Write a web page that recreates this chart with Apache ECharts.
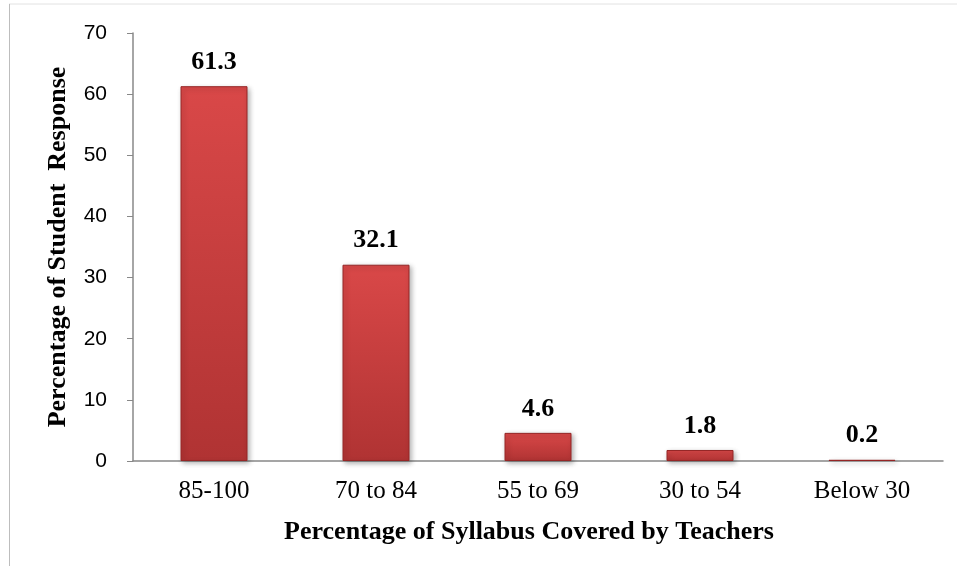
<!DOCTYPE html>
<html>
<head>
<meta charset="utf-8">
<script src="https://cdn.jsdelivr.net/npm/echarts@6/dist/echarts.min.js"></script>
<style>
  html, body { margin: 0; padding: 0; background: #fff; }
  #chart { width: 957px; height: 575px; }
</style>
</head>
<body>
<div id="chart"></div>
<script>
// syllabus coverage bands and the share of students answering each
var categories = ["85-100", "70 to 84", "55 to 69", "30 to 54", "Below 30"];
var responses = [61.3, 32.1, 4.6, 1.8, 0.2];
var yTicks = { min: 0, max: 70, interval: 10 };

var myChart = echarts.init(document.getElementById("chart"));

// top lighter, bottom darker like the bevelled office bars
var barColor = {
  type: "linear", x: 0, y: 0, x2: 0, y2: 1,
  colorStops: [
    { offset: 0, color: "#d94848" },
    { offset: 1, color: "#b03333" }
  ]
};

var option = {
  backgroundColor: "#fff",
  animation: false,
  graphic: [
    // faint frame of the original chart area
    { type: "line", shape: { x1: 9, y1: 4, x2: 957, y2: 4 }, style: { stroke: "#e2e2e2", lineWidth: 1 } },
    { type: "line", shape: { x1: 9.5, y1: 4, x2: 9.5, y2: 566 }, style: { stroke: "#bdbdbd", lineWidth: 1 } }
  ],
  grid: { left: 133, right: 14, top: 33, bottom: 114 },
  xAxis: {
    type: "category",
    data: categories,
    name: "Percentage of Syllabus Covered by Teachers",
    nameLocation: "middle",
    nameGap: 58,
    nameTextStyle: { fontFamily: "Liberation Serif", fontWeight: "bold", fontSize: 26, color: "#000", padding: [0, 18, 0, 0] },
    axisLine: { lineStyle: { color: "#888", width: 1.5 } },
    axisTick: { show: false },
    axisLabel: { fontFamily: "Liberation Serif", fontSize: 25, color: "#000", margin: 18 }
  },
  yAxis: {
    type: "value",
    min: yTicks.min,
    max: yTicks.max,
    interval: yTicks.interval,
    name: "Percentage of Student  Response",
    nameLocation: "middle",
    nameGap: 62,
    nameTextStyle: { fontFamily: "Liberation Serif", fontWeight: "bold", fontSize: 26, color: "#000" },
    axisLine: { show: true, lineStyle: { color: "#888", width: 1.5 } },
    axisTick: { show: true, length: 6, lineStyle: { color: "#888" } },
    splitLine: { show: false },
    axisLabel: { fontFamily: "Liberation Sans", fontSize: 21, color: "#000", margin: 26 }
  },
  series: [
    {
      type: "bar",
      data: responses,
      barWidth: 67,
      itemStyle: {
        color: barColor,
        borderColor: "#952626",
        borderWidth: 1,
        shadowColor: "rgba(0,0,0,0.3)",
        shadowBlur: 5,
        shadowOffsetX: 2,
        shadowOffsetY: 2
      },
      label: {
        show: true,
        position: "top",
        distance: 11,
        fontFamily: "Liberation Serif",
        fontWeight: "bold",
        fontSize: 26,
        color: "#000"
      }
    }
  ]
};

myChart.setOption(option);
</script>
</body>
</html>
